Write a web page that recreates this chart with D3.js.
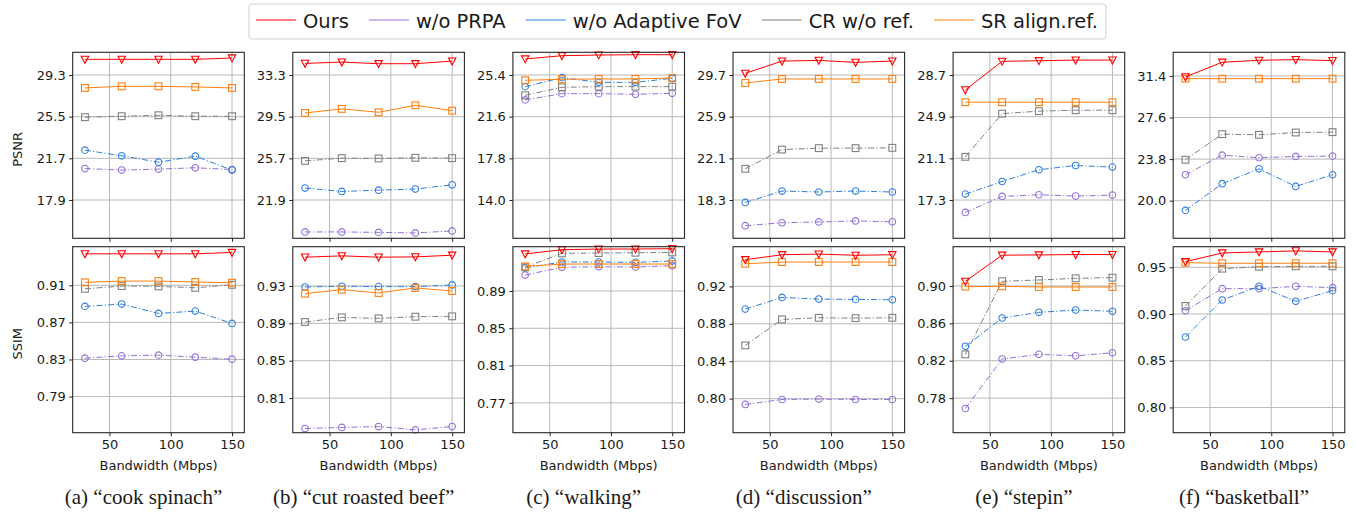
<!DOCTYPE html>
<html>

<head>
  <title>bandwidth ablation</title>
  <meta charset="utf-8">
  <script src="https://d3js.org/d3.v7.min.js"></script>
  <style type="text/css">
    body {
      margin: 0;
      background: #fff;
    }

    text {
      font-family: "DejaVu Sans", sans-serif;
      fill: #1a1a1a;
    }

    .grid line {
      stroke: #b9b9b9;
      stroke-width: 1;
    }

    .axis path {
      display: none;
    }

    .axis line {
      stroke: #222;
    }

    .axis text {
      font-size: 13px;
    }

    .caption {
      font-family: "Liberation Serif", serif;
      font-size: 21px;
    }
  </style>
</head>

<body>

  <svg id="chart"></svg>

  <script>
    // x values shared by all panels
    var bandwidth = [30, 60, 90, 120, 150];
    var scenes = ["cook spinach", "cut roasted beef", "walking", "discussion", "stepin", "basketball"];
    var methods = ["Ours", "w/o PRPA", "w/o Adaptive FoV", "CR w/o ref.", "SR align.ref."];

    // PSNR, one row per scene
    var psnrOurs = [
      [30.73, 30.73, 30.73, 30.73, 30.85],
      [34.36, 34.48, 34.33, 34.33, 34.57],
      [26.86, 27.16, 27.22, 27.25, 27.25],
      [29.85, 30.97, 31.03, 30.85, 30.97],
      [27.34, 29.95, 30.00, 30.06, 30.06],
      [31.31, 32.65, 32.83, 32.89, 32.80]
    ];
    var psnrNoPrpa = [
      [20.77, 20.63, 20.72, 20.84, 20.68],
      [18.99, 18.99, 18.95, 18.90, 19.08],
      [23.13, 23.70, 23.70, 23.64, 23.73],
      [15.96, 16.23, 16.30, 16.39, 16.32],
      [16.17, 17.63, 17.78, 17.66, 17.75],
      [22.37, 24.16, 23.92, 24.04, 24.07]
    ];
    var psnrNoFov = [
      [22.45, 21.93, 21.35, 21.90, 20.63],
      [22.99, 22.68, 22.80, 22.90, 23.29],
      [24.34, 25.16, 24.73, 24.73, 25.10],
      [18.08, 19.12, 19.03, 19.12, 19.03],
      [17.84, 18.99, 20.06, 20.45, 20.30],
      [19.11, 21.55, 22.91, 21.30, 22.37]
    ];
    var psnrCr = [
      [25.45, 25.54, 25.63, 25.54, 25.54],
      [25.47, 25.72, 25.69, 25.75, 25.72],
      [23.55, 24.28, 24.34, 24.34, 24.34],
      [21.15, 22.90, 23.03, 23.03, 23.06],
      [21.24, 25.18, 25.40, 25.49, 25.49],
      [23.74, 26.08, 26.02, 26.23, 26.26]
    ];
    var psnrSr = [
      [28.12, 28.27, 28.27, 28.21, 28.12],
      [29.84, 30.21, 29.90, 30.54, 30.05],
      [24.92, 25.01, 25.04, 25.04, 25.13],
      [28.97, 29.34, 29.34, 29.34, 29.34],
      [26.22, 26.22, 26.22, 26.22, 26.22],
      [31.15, 31.15, 31.15, 31.15, 31.15]
    ];

    // SSIM, one row per scene
    var ssimOurs = [
      [0.944, 0.944, 0.944, 0.944, 0.9455],
      [0.9608, 0.9622, 0.9608, 0.9611, 0.9629],
      [0.9297, 0.9343, 0.935, 0.935, 0.9354],
      [0.9485, 0.9538, 0.9545, 0.9532, 0.9538],
      [0.905, 0.9329, 0.9332, 0.9336, 0.9336],
      [0.956, 0.9653, 0.9664, 0.9675, 0.9664]
    ];
    var ssimNoPrpa = [
      [0.8314, 0.8339, 0.8347, 0.8325, 0.8303],
      [0.7775, 0.7786, 0.7796, 0.776, 0.7796],
      [0.9071, 0.9154, 0.916, 0.9157, 0.9171],
      [0.7938, 0.7991, 0.7995, 0.7991, 0.7991],
      [0.7689, 0.8218, 0.8268, 0.8253, 0.8285],
      [0.9035, 0.9271, 0.9271, 0.9296, 0.9282]
    ];
    var ssimNoFov = [
      [0.8873, 0.8898, 0.8797, 0.8822, 0.8689],
      [0.9289, 0.9297, 0.9293, 0.9293, 0.9311],
      [0.9147, 0.9211, 0.9211, 0.9207, 0.9222],
      [0.8957, 0.9082, 0.9064, 0.9061, 0.9057],
      [0.8354, 0.8657, 0.8718, 0.8743, 0.8729],
      [0.8754, 0.915, 0.9296, 0.9136, 0.925]
    ];
    var ssimCr = [
      [0.9063, 0.9092, 0.9089, 0.9074, 0.9106],
      [0.8914, 0.8964, 0.8953, 0.8971, 0.8975],
      [0.9154, 0.9304, 0.9307, 0.931, 0.9314],
      [0.8569, 0.8847, 0.8864, 0.8861, 0.8864],
      [0.8268, 0.905, 0.9064, 0.9082, 0.9089],
      [0.9086, 0.9485, 0.9506, 0.951, 0.951]
    ];
    var ssimSr = [
      [0.9132, 0.9146, 0.9146, 0.9136, 0.9128],
      [0.9218, 0.926, 0.9225, 0.9279, 0.9246],
      [0.9164, 0.9189, 0.9189, 0.9189, 0.9189],
      [0.9442, 0.946, 0.946, 0.946, 0.946],
      [0.8993, 0.8996, 0.8989, 0.8989, 0.8989],
      [0.9549, 0.9543, 0.9543, 0.9543, 0.9543]
    ];

    // tick labels and axis limits per scene
    var xTicks = [50, 100, 150];
    var psnrTicks = [
      [29.3, 25.5, 21.7, 17.9],
      [33.3, 29.5, 25.7, 21.9],
      [25.4, 21.6, 17.8, 14.0],
      [29.7, 25.9, 22.1, 18.3],
      [28.7, 24.9, 21.1, 17.3],
      [31.4, 27.6, 23.8, 20.0]
    ];
    var ssimTicks = [
      [0.91, 0.87, 0.83, 0.79],
      [0.93, 0.89, 0.85, 0.81],
      [0.89, 0.85, 0.81, 0.77],
      [0.92, 0.88, 0.84, 0.80],
      [0.90, 0.86, 0.82, 0.78],
      [0.95, 0.90, 0.85, 0.80]
    ];
    var psnrLimits = [[14.41, 31.37], [18.41, 35.37], [10.51, 27.47], [14.81, 31.77], [13.81, 30.77], [16.56, 33.56]];
    var ssimLimits = [[0.751, 0.9517], [0.773, 0.972], [0.738, 0.9375], [0.7636, 0.9624], [0.743, 0.942], [0.773, 0.972]];

    // 系列ごとの見た目
    var styles = {
      "Ours": { color: "#ff0000", dash: null, marker: "tri" },
      "w/o PRPA": { color: "#9370db", dash: "6,2.2,1.2,2.2", marker: "circle" },
      "w/o Adaptive FoV": { color: "#2f7ee0", dash: "6,2.2,1.2,2.2", marker: "circle" },
      "CR w/o ref.": { color: "#808080", dash: "6,2.2,1.2,2.2", marker: "square" },
      "SR align.ref.": { color: "#ff7f0e", dash: null, marker: "square" }
    };

    var width = 1355, height = 514;
    var svg = d3.select("#chart").attr("width", width).attr("height", height);

    var panelW = 171.6, panelH = 186;
    var left0 = 72.7, stepX = 220.1;
    var rowTop = [52.3, 246.7];

    var x = d3.scaleLinear().domain([20, 160]).range([0, panelW]);

    var rows = [
      { label: "PSNR", ticks: psnrTicks, limits: psnrLimits, fmt: d3.format(".1f"),
        series: { "Ours": psnrOurs, "w/o PRPA": psnrNoPrpa, "w/o Adaptive FoV": psnrNoFov, "CR w/o ref.": psnrCr, "SR align.ref.": psnrSr } },
      { label: "SSIM", ticks: ssimTicks, limits: ssimLimits, fmt: d3.format(".2f"),
        series: { "Ours": ssimOurs, "w/o PRPA": ssimNoPrpa, "w/o Adaptive FoV": ssimNoFov, "CR w/o ref.": ssimCr, "SR align.ref.": ssimSr } }
    ];

    // draw order: Ours on top
    var drawOrder = ["w/o PRPA", "w/o Adaptive FoV", "CR w/o ref.", "SR align.ref.", "Ours"];

    function drawMarker(sel, kind, color) {
      if (kind === "circle") {
        sel.append("circle").attr("r", 3.3);
      } else if (kind === "square") {
        sel.append("rect").attr("x", -3.4).attr("y", -3.4).attr("width", 6.8).attr("height", 6.8);
      } else {
        sel.append("path").attr("d", "M-3.7,-3.1L3.7,-3.1L0,3.9Z");
      }
      sel.selectAll("circle,rect,path")
        .attr("fill", "none")
        .attr("stroke", color)
        .attr("stroke-width", 1.1);
    }

    scenes.forEach(function (scene, i) {
      rows.forEach(function (row, r) {
        var g = svg.append("g")
          .attr("transform", "translate(" + (left0 + stepX * i) + "," + rowTop[r] + ")");

        var y = d3.scaleLinear().domain(row.limits[i]).range([panelH, 0]);

        // grid
        var grid = g.append("g").attr("class", "grid");
        grid.selectAll(".gx").data(xTicks).enter().append("line")
          .attr("x1", function (d) { return x(d); }).attr("x2", function (d) { return x(d); })
          .attr("y1", 0).attr("y2", panelH);
        grid.selectAll(".gy").data(row.ticks[i]).enter().append("line")
          .attr("x1", 0).attr("x2", panelW)
          .attr("y1", function (d) { return y(d); }).attr("y2", function (d) { return y(d); });

        // axes
        g.append("g").attr("class", "axis")
          .call(d3.axisLeft(y).tickValues(row.ticks[i]).tickFormat(row.fmt)
            .tickSize(3.5).tickPadding(3.5))
          .selectAll("text").attr("font-family", null).attr("font-size", null);

        var xAxis = g.append("g").attr("class", "axis")
          .attr("transform", "translate(0," + panelH + ")")
          .call(d3.axisBottom(x).tickValues(xTicks)
            .tickFormat(r === 1 ? d3.format("d") : function () { return ""; })
            .tickSize(3.5).tickPadding(3.5));
        xAxis.selectAll("text").attr("font-family", null).attr("font-size", null);

        // series
        var line = d3.line()
          .x(function (d, k) { return x(bandwidth[k]); })
          .y(function (d) { return y(d); });

        drawOrder.forEach(function (m) {
          var st = styles[m];
          var vals = row.series[m][i];
          g.append("path")
            .datum(vals)
            .attr("d", line)
            .attr("fill", "none")
            .attr("stroke", st.color)
            .attr("stroke-width", 1)
            .attr("stroke-dasharray", st.dash);
          g.selectAll(null).data(vals).enter().append("g")
            .attr("transform", function (d, k) { return "translate(" + x(bandwidth[k]) + "," + y(d) + ")"; })
            .each(function () { drawMarker(d3.select(this), st.marker, st.color); });
        });

        // frame
        g.append("rect")
          .attr("width", panelW).attr("height", panelH)
          .attr("fill", "none").attr("stroke", "#262626").attr("stroke-width", 1.1);

        if (r === 1) {
          g.append("text")
            .attr("x", panelW / 2).attr("y", panelH + 37)
            .attr("text-anchor", "middle")
            .attr("font-size", 13)
            .text("Bandwidth (Mbps)");
        }

        // y label only on the first column
        if (i === 0) {
          g.append("text")
            .attr("transform", "translate(-51," + (panelH / 2 + 4) + ") rotate(-90)")
            .attr("text-anchor", "middle")
            .attr("font-size", 13)
            .text(row.label);
        }
      });

      // caption under each column
      svg.append("text")
        .attr("class", "caption")
        .attr("x", left0 + stepX * i + panelW / 2 - 15)
        .attr("y", 503.5)
        .attr("text-anchor", "middle")
        .text("(" + "abcdef"[i] + ") \u201c" + scene + "\u201d");
    });

    // legend
    var legend = svg.append("g");
    var box = legend.append("rect")
      .attr("x", 249).attr("y", 4).attr("height", 35).attr("rx", 3)
      .attr("fill", "#fff").attr("stroke", "#d0d0d0").attr("stroke-width", 1);
    var lx = 256;
    methods.forEach(function (m) {
      legend.append("line")
        .attr("x1", lx).attr("x2", lx + 40).attr("y1", 20).attr("y2", 20)
        .attr("stroke", styles[m].color).attr("stroke-width", 1.2);
      var t = legend.append("text")
        .attr("x", lx + 47).attr("y", 27.5)
        .attr("font-size", 19.5)
        .text(m);
      lx += 47 + t.node().getComputedTextLength() + 20;
    });
    box.attr("width", lx - 20 + 8 - 249);
  </script>
</body>

</html>
